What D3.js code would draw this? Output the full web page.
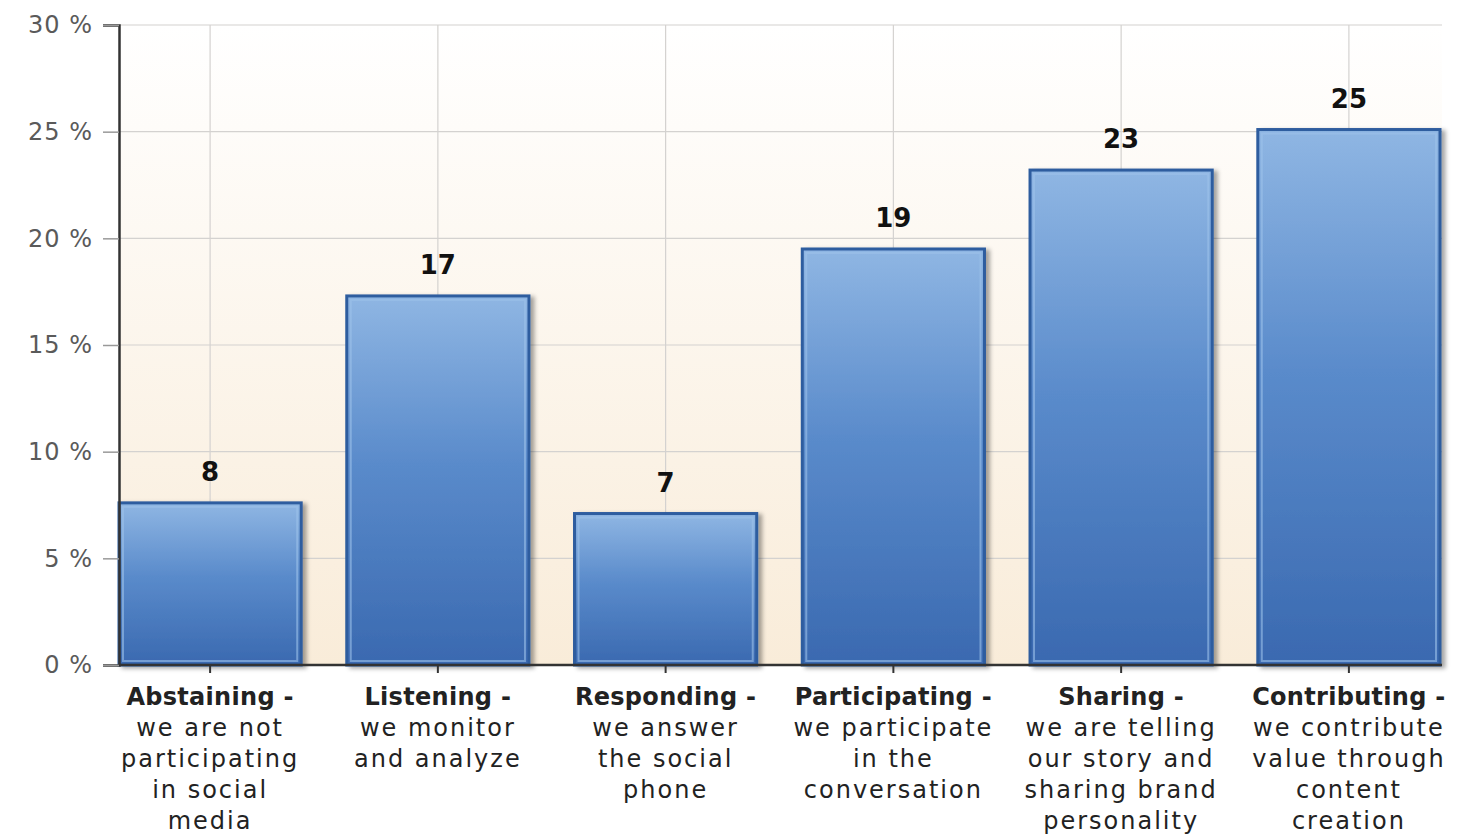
<!DOCTYPE html>
<html>
<head>
<meta charset="utf-8">
<script src="https://cdn.jsdelivr.net/npm/d3@7"></script>
<style>
  body { margin: 0; background: #fff; }
  svg { display: block; }
</style>
</head>
<body>
<svg id="chart"></svg>
<script>
// Data
const categories = ["Abstaining", "Listening", "Responding", "Participating", "Sharing", "Contributing"];
const titles = ["Abstaining -", "Listening -", "Responding -", "Participating -", "Sharing -", "Contributing -"];
const descriptions = [
  ["we are not", "participating", "in social", "media"],
  ["we monitor", "and analyze"],
  ["we answer", "the social", "phone"],
  ["we participate", "in the", "conversation"],
  ["we are telling", "our story and", "sharing brand", "personality"],
  ["we contribute", "value through", "content", "creation"]
];
const values = [7.6, 17.3, 7.1, 19.5, 23.2, 25.1];
const valueLabels = ["8", "17", "7", "19", "23", "25"];
const yTicks = [0, 5, 10, 15, 20, 25, 30];

const W = 1457, H = 835;
const margin = {top: 25, right: 15, bottom: 170, left: 119};
const width = W - margin.left - margin.right;
const height = H - margin.top - margin.bottom;

const svgRoot = d3.select("#chart").attr("width", W).attr("height", H);
const defs = svgRoot.append("defs");

// plot background: white at top fading to beige
const bg = defs.append("linearGradient").attr("id", "bgGrad")
  .attr("x1", 0).attr("y1", 0).attr("x2", 0).attr("y2", 1);
bg.append("stop").attr("offset", "0%").attr("stop-color", "#ffffff");
bg.append("stop").attr("offset", "100%").attr("stop-color", "#f9ecd9");

// bar fill: light blue on top to deeper blue at bottom
const barGrad = defs.append("linearGradient").attr("id", "barGrad")
  .attr("x1", 0).attr("y1", 0).attr("x2", 0).attr("y2", 1);
barGrad.append("stop").attr("offset", "0%").attr("stop-color", "#8fb6e3");
barGrad.append("stop").attr("offset", "45%").attr("stop-color", "#5a8bcb");
barGrad.append("stop").attr("offset", "100%").attr("stop-color", "#3a69b0");

const shadow = defs.append("filter").attr("id", "shadow")
  .attr("x", "-10%").attr("y", "-10%").attr("width", "130%").attr("height", "130%");
shadow.append("feDropShadow").attr("dx", 4).attr("dy", 2).attr("stdDeviation", 2)
  .attr("flood-color", "#000").attr("flood-opacity", 0.35);

const svg = svgRoot.append("g").attr("transform", `translate(${margin.left},${margin.top})`);

const x = d3.scaleBand()
  .domain(categories)
  .range([0, width - 2])
  .paddingInner(0.2)
  .paddingOuter(0);

const y = d3.scaleLinear().domain([0, 30]).range([height, 0]);

svg.append("rect")
  .attr("x", 0).attr("y", 0)
  .attr("width", width).attr("height", height)
  .attr("fill", "url(#bgGrad)");

// horizontal grid
svg.selectAll(".hgrid")
  .data(yTicks)
  .enter().append("line")
  .attr("class", "hgrid")
  .attr("x1", 0).attr("x2", width)
  .attr("y1", d => y(d)).attr("y2", d => y(d))
  .attr("stroke", "#d4d2d0").attr("stroke-width", 1.2);

// vertical grid at bar centers
svg.selectAll(".vgrid")
  .data(categories)
  .enter().append("line")
  .attr("class", "vgrid")
  .attr("x1", d => x(d) + x.bandwidth() / 2)
  .attr("x2", d => x(d) + x.bandwidth() / 2)
  .attr("y1", 0).attr("y2", height)
  .attr("stroke", "#d4d2d0").attr("stroke-width", 1.2);

// bars
const bars = svg.selectAll(".bar")
  .data(categories)
  .enter().append("g")
  .attr("class", "bar");

bars.append("rect")
  .attr("x", d => x(d))
  .attr("y", (d, i) => y(values[i]))
  .attr("width", x.bandwidth())
  .attr("height", (d, i) => height - y(values[i]))
  .attr("fill", "url(#barGrad)")
  .attr("stroke", "#2f5d9f")
  .attr("stroke-width", 3)
  .attr("filter", "url(#shadow)");

// inner highlight frame
bars.append("rect")
  .attr("x", d => x(d) + 4)
  .attr("y", (d, i) => y(values[i]) + 4)
  .attr("width", x.bandwidth() - 8)
  .attr("height", (d, i) => Math.max(0, height - y(values[i]) - 8))
  .attr("fill", "none")
  .attr("stroke", "#9cc1ea")
  .attr("stroke-opacity", 0.6)
  .attr("stroke-width", 2);

// value labels
svg.selectAll(".val")
  .data(categories)
  .enter().append("text")
  .attr("class", "val")
  .attr("x", d => x(d) + x.bandwidth() / 2)
  .attr("y", (d, i) => y(values[i]) - 22)
  .attr("text-anchor", "middle")
  .attr("font-family", "DejaVu Sans, sans-serif")
  .attr("font-weight", "bold")
  .attr("font-size", "26px")
  .attr("fill", "#111")
  .text((d, i) => valueLabels[i]);

// y axis
const yAxis = svg.append("g")
  .call(d3.axisLeft(y).tickValues(yTicks).tickSize(16).tickPadding(10).tickFormat(d => d + " %"));
yAxis.select(".domain").attr("stroke", "#333").attr("stroke-width", 2.5);
yAxis.selectAll(".tick line").attr("stroke", "#999").attr("stroke-width", 1.5);
yAxis.selectAll(".tick text")
  .attr("font-family", "DejaVu Sans, sans-serif")
  .attr("font-size", "24px")
  .attr("letter-spacing", "1px")
  .attr("fill", "#5a5a5a");

// x axis
const xAxis = svg.append("g")
  .attr("transform", `translate(0,${height})`)
  .call(d3.axisBottom(x).tickSize(8).tickSizeOuter(0).tickFormat(""));
xAxis.select(".domain").attr("stroke", "#333").attr("stroke-width", 2.5)
  .attr("d", `M0,0H${width}`);
xAxis.selectAll(".tick line").attr("stroke", "#333").attr("stroke-width", 2);

// multi-line category labels
const labels = svg.selectAll(".xlabel")
  .data(categories)
  .enter().append("text")
  .attr("class", "xlabel")
  .attr("text-anchor", "middle")
  .attr("font-family", "DejaVu Sans, sans-serif")
  .attr("font-size", "24px")
  .attr("fill", "#222");

labels.each(function(d, i) {
  const t = d3.select(this);
  const cx = x(d) + x.bandwidth() / 2;
  t.append("tspan")
    .attr("x", cx).attr("y", height + 40)
    .attr("font-weight", "bold")
    .attr("letter-spacing", "0.3px")
    .text(titles[i]);
  descriptions[i].forEach((line, j) => {
    t.append("tspan")
      .attr("x", cx).attr("y", height + 40 + 31 * (j + 1))
      .attr("letter-spacing", "2px")
      .text(line);
  });
});
</script>
</body>
</html>
